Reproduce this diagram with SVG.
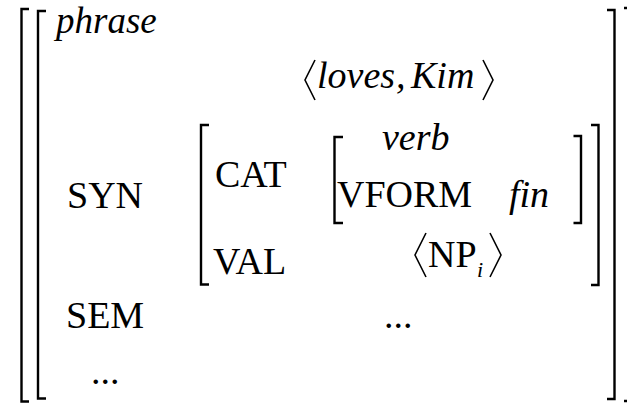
<svg xmlns="http://www.w3.org/2000/svg" width="627" height="403" viewBox="0 0 627 403">
  <style>
    text { font-family: 'Liberation Serif', 'Times New Roman', Times, serif; font-size: 38px; fill: #000; }
    .i { font-style: italic; }
    .ph { font-size: 37px; }
    .sub { font-size: 22px; }
    .br { fill: none; stroke: #000; stroke-width: 2.4; stroke-linecap: butt; stroke-linejoin: miter; }
    .ang { fill: none; stroke: #000; stroke-width: 1.6; stroke-linejoin: miter; }
  </style>
  <rect width="627" height="403" fill="#fff"/>

  <g id="brackets">
    <path class="br" d="M29 9 H21.5 V401.5 H29"/>
    <path class="br" d="M607 10 H614.5 V399 H607"/>
    <path class="br" d="M624 8 H631 V401 H624"/>
    <path class="br" d="M46 11 H38 V398.5 H46"/>
    <path class="br" d="M209 125 H201 V284.5 H209"/>
    <path class="br" d="M591 125 H598.5 V285 H591"/>
    <path class="br" d="M343 137 H334.5 V223 H343"/>
    <path class="br" d="M573.5 136 H581 V223 H573.5"/>
  </g>

  <g id="angles">
    <polyline class="ang" points="315,60 305,80 315,100"/>
    <polyline class="ang" points="483,60 493,80 483,100"/>
    <polyline class="ang" points="426,233 415,255 426,277"/>
    <polyline class="ang" points="490,233 501,255 490,277"/>
  </g>

  <g id="labels">
    <text class="i ph" x="56" y="33">phrase</text>
    <text class="i" x="317" y="88">loves</text>
    <text class="i" x="396" y="88">,</text>
    <text class="i" x="411" y="88">Kim</text>
    <text x="67" y="208">SYN</text>
    <text x="215" y="187">CAT</text>
    <text class="i" x="382" y="150">verb</text>
    <text x="337" y="207">VFORM</text>
    <text class="i" x="509" y="207">fin</text>
    <text x="213" y="274">VAL</text>
    <text x="428" y="267">NP</text>
    <text class="i sub" x="477" y="277">i</text>
    <text x="66" y="328">SEM</text>
    <text x="384" y="328">...</text>
    <text x="91" y="384">...</text>
  </g>
</svg>
